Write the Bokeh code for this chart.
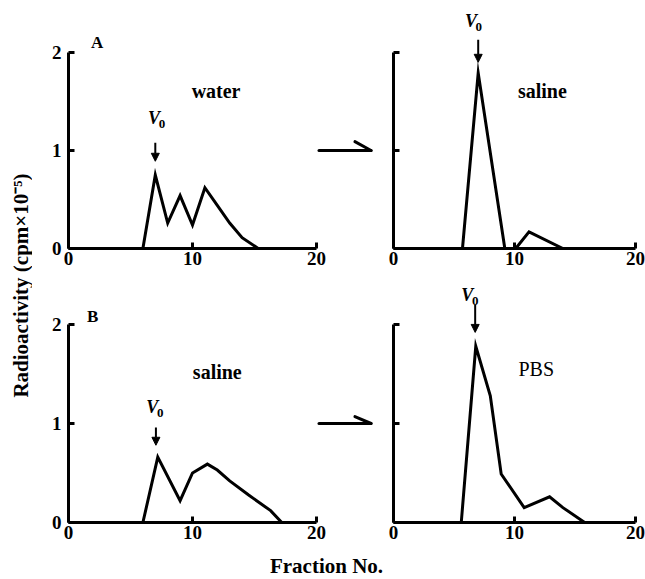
import math
from bokeh.plotting import figure
from bokeh.layouts import row, column
from bokeh.models import Range1d, FixedTicker, Arrow, NormalHead
from bokeh.core.properties import value
from bokeh.embed import file_html
from bokeh.resources import INLINE

FONT = "Liberation Serif"

# ---- data (fraction no., radioactivity cpm x 10^-5) ----
a_water_x = [6, 7, 8, 9, 10, 11, 12, 13, 14, 15.3]
a_water_y = [0, 0.75, 0.26, 0.54, 0.24, 0.62, 0.44, 0.26, 0.11, 0]

a_saline_x = [5.7, 7, 9.2, 10.1, 11.2, 14]
a_saline_y = [0, 1.79, 0, 0, 0.17, 0]

b_saline_x = [6, 7.2, 9, 10, 11.2, 12, 13, 14.5, 16.3, 17.2]
b_saline_y = [0, 0.66, 0.22, 0.50, 0.59, 0.53, 0.42, 0.28, 0.12, 0]

b_pbs_x = [5.6, 6.8, 8, 8.9, 10.8, 12.9, 14, 15.8]
b_pbs_y = [0, 1.78, 1.28, 0.49, 0.15, 0.26, 0.15, 0]

x_ticks = [0, 10, 20]
y_ticks = [0, 1, 2]


def panel(width, height, left, right, bottom, frame_h, xmax, ytop, ylabels):
    p = figure(width=width, height=height,
               x_range=Range1d(0, xmax), y_range=Range1d(0, ytop),
               output_backend="svg", toolbar_location=None,
               min_border_left=left, min_border_right=right,
               min_border_top=height - bottom - frame_h, min_border_bottom=bottom)
    p.grid.visible = False
    p.outline_line_color = None
    p.background_fill_color = "white"
    p.border_fill_color = "white"
    xa = p.xaxis[0]
    ya = p.yaxis[0]
    xa.ticker = FixedTicker(ticks=x_ticks)
    xa.bounds = (0, 20)
    ya.ticker = FixedTicker(ticks=y_ticks)
    ya.bounds = (0, 2)
    for ax in (xa, ya):
        ax.axis_line_width = 3
        ax.axis_line_color = "black"
        ax.major_tick_line_width = 3
        ax.major_tick_line_color = "black"
        ax.major_tick_in = 6
        ax.major_tick_out = 0
        ax.minor_tick_line_color = None
        ax.major_label_text_font = FONT
        ax.major_label_text_font_style = "bold"
        ax.major_label_text_font_size = "19px"
        ax.major_label_text_color = "black"
    xa.major_label_standoff = 3
    ya.major_label_standoff = 7
    if not ylabels:
        ya.major_label_overrides = {0: "", 1: "", 2: ""}
    return p


def label(p, x, y, txt, size="20px", style="bold"):
    p.text(x=[x], y=[y], text=[txt], text_font=value(FONT),
           text_font_style=style, text_font_size=size,
           text_align="center", text_baseline="middle", text_color="black")


def v0(p, xv, yv, xa, ya0, ya1):
    p.text(x=[xv], y=[yv], text=["V"], text_font=value(FONT),
           text_font_style="bold italic", text_font_size="18px",
           text_align="center", text_baseline="middle", text_color="black")
    p.text(x=[xv + 0.65], y=[yv - 0.06], text=["0"], text_font=value(FONT),
           text_font_style="bold", text_font_size="13px",
           text_align="center", text_baseline="middle", text_color="black")
    p.add_layout(Arrow(end=NormalHead(size=8, fill_color="black", line_color="black", line_width=1),
                       x_start=xa, y_start=ya0, x_end=xa, y_end=ya1,
                       line_width=2, line_color="black"))


def harpoon(p, x0, x1, y, xb, yb):
    p.segment(x0=[x0, x1], y0=[y, y], x1=[x1, xb], y1=[y, yb],
              line_width=3, line_color="black", line_cap="round")


def curve(p, xs, ys):
    p.line(xs, ys, line_width=3, line_color="black", line_join="miter")


# ---- layout sizes (pixels) ----
YL_W = 32
LEFT_W, RIGHT_W = 351, 262
L_LEFT, R_LEFT, R_RIGHT = 36, 10, 10
LXPX = 12.4                      # px per fraction, left panels
RXPX = (RIGHT_W - R_LEFT - R_RIGHT) / 20.0
TOP_H, BOT_H = 272, 274
TOP_FH, BOT_FH = 248, 250
TOP_YPX, BOT_YPX = 98.0, 99.0
XL_H = 33

l_xmax = (LEFT_W - L_LEFT) / LXPX

# Panel A, water
pa = panel(LEFT_W, TOP_H, L_LEFT, 0, 24, TOP_FH, l_xmax, TOP_FH / TOP_YPX, True)
curve(pa, a_water_x, a_water_y)
label(pa, 2.3, 2.1, "A", size="17px")
label(pa, 11.9, 1.61, "water")
v0(pa, 6.9, 1.33, 7.0, 1.08, 0.89)
harpoon(pa, 20.2, 24.4, 1.0, 23.1, 1.09)

# Panel A, saline
pa2 = panel(RIGHT_W, TOP_H, R_LEFT, R_RIGHT, 24, TOP_FH, 20, TOP_FH / TOP_YPX, False)
curve(pa2, a_saline_x, a_saline_y)
label(pa2, 12.3, 1.61, "saline")
v0(pa2, 6.4, 2.32, 7.0, 2.13, 1.90)

# Panel B, saline
pb = panel(LEFT_W, BOT_H, L_LEFT, 0, 24, BOT_FH, l_xmax, BOT_FH / BOT_YPX, True)
curve(pb, b_saline_x, b_saline_y)
label(pb, 1.95, 2.08, "B", size="17px")
label(pb, 12.0, 1.52, "saline")
v0(pb, 6.75, 1.17, 7.05, 0.96, 0.78)
harpoon(pb, 20.2, 24.4, 1.0, 23.1, 1.07)

# Panel B, PBS
pb2 = panel(RIGHT_W, BOT_H, R_LEFT, R_RIGHT, 24, BOT_FH, 20, BOT_FH / BOT_YPX, False)
curve(pb2, b_pbs_x, b_pbs_y)
label(pb2, 11.8, 1.55, "PBS", style="normal")
v0(pb2, 6.1, 2.30, 6.75, 2.20, 1.92)

# global y label
YL_H = TOP_H + BOT_H
yl = figure(width=YL_W, height=YL_H, x_range=Range1d(0, YL_W), y_range=Range1d(0, YL_H),
            output_backend="svg", toolbar_location=None,
            x_axis_location=None, y_axis_location=None, min_border=0)
yl.grid.visible = False
yl.outline_line_color = None
yl.text(x=[20], y=[YL_H - 285], text=["Radioactivity (cpm\u00d710\u207b\u2075)"],
        text_font=value(FONT), text_font_style="bold", text_font_size="21px",
        angle=math.pi / 2, text_align="center", text_baseline="middle", text_color="black")

# global x label
XL_W = LEFT_W + RIGHT_W
xl = figure(width=XL_W, height=XL_H, x_range=Range1d(0, XL_W), y_range=Range1d(0, XL_H),
            output_backend="svg", toolbar_location=None,
            x_axis_location=None, y_axis_location=None, min_border=0)
xl.grid.visible = False
xl.outline_line_color = None
xl.text(x=[326 - YL_W], y=[XL_H - (565 - YL_H)], text=["Fraction No."], text_font=value(FONT),
        text_font_style="bold", text_font_size="21px",
        text_align="center", text_baseline="middle", text_color="black")

layout = row(yl, column(row(pa, pa2), row(pb, pb2), xl))

open("out.html", "w").write(file_html(layout, INLINE))
